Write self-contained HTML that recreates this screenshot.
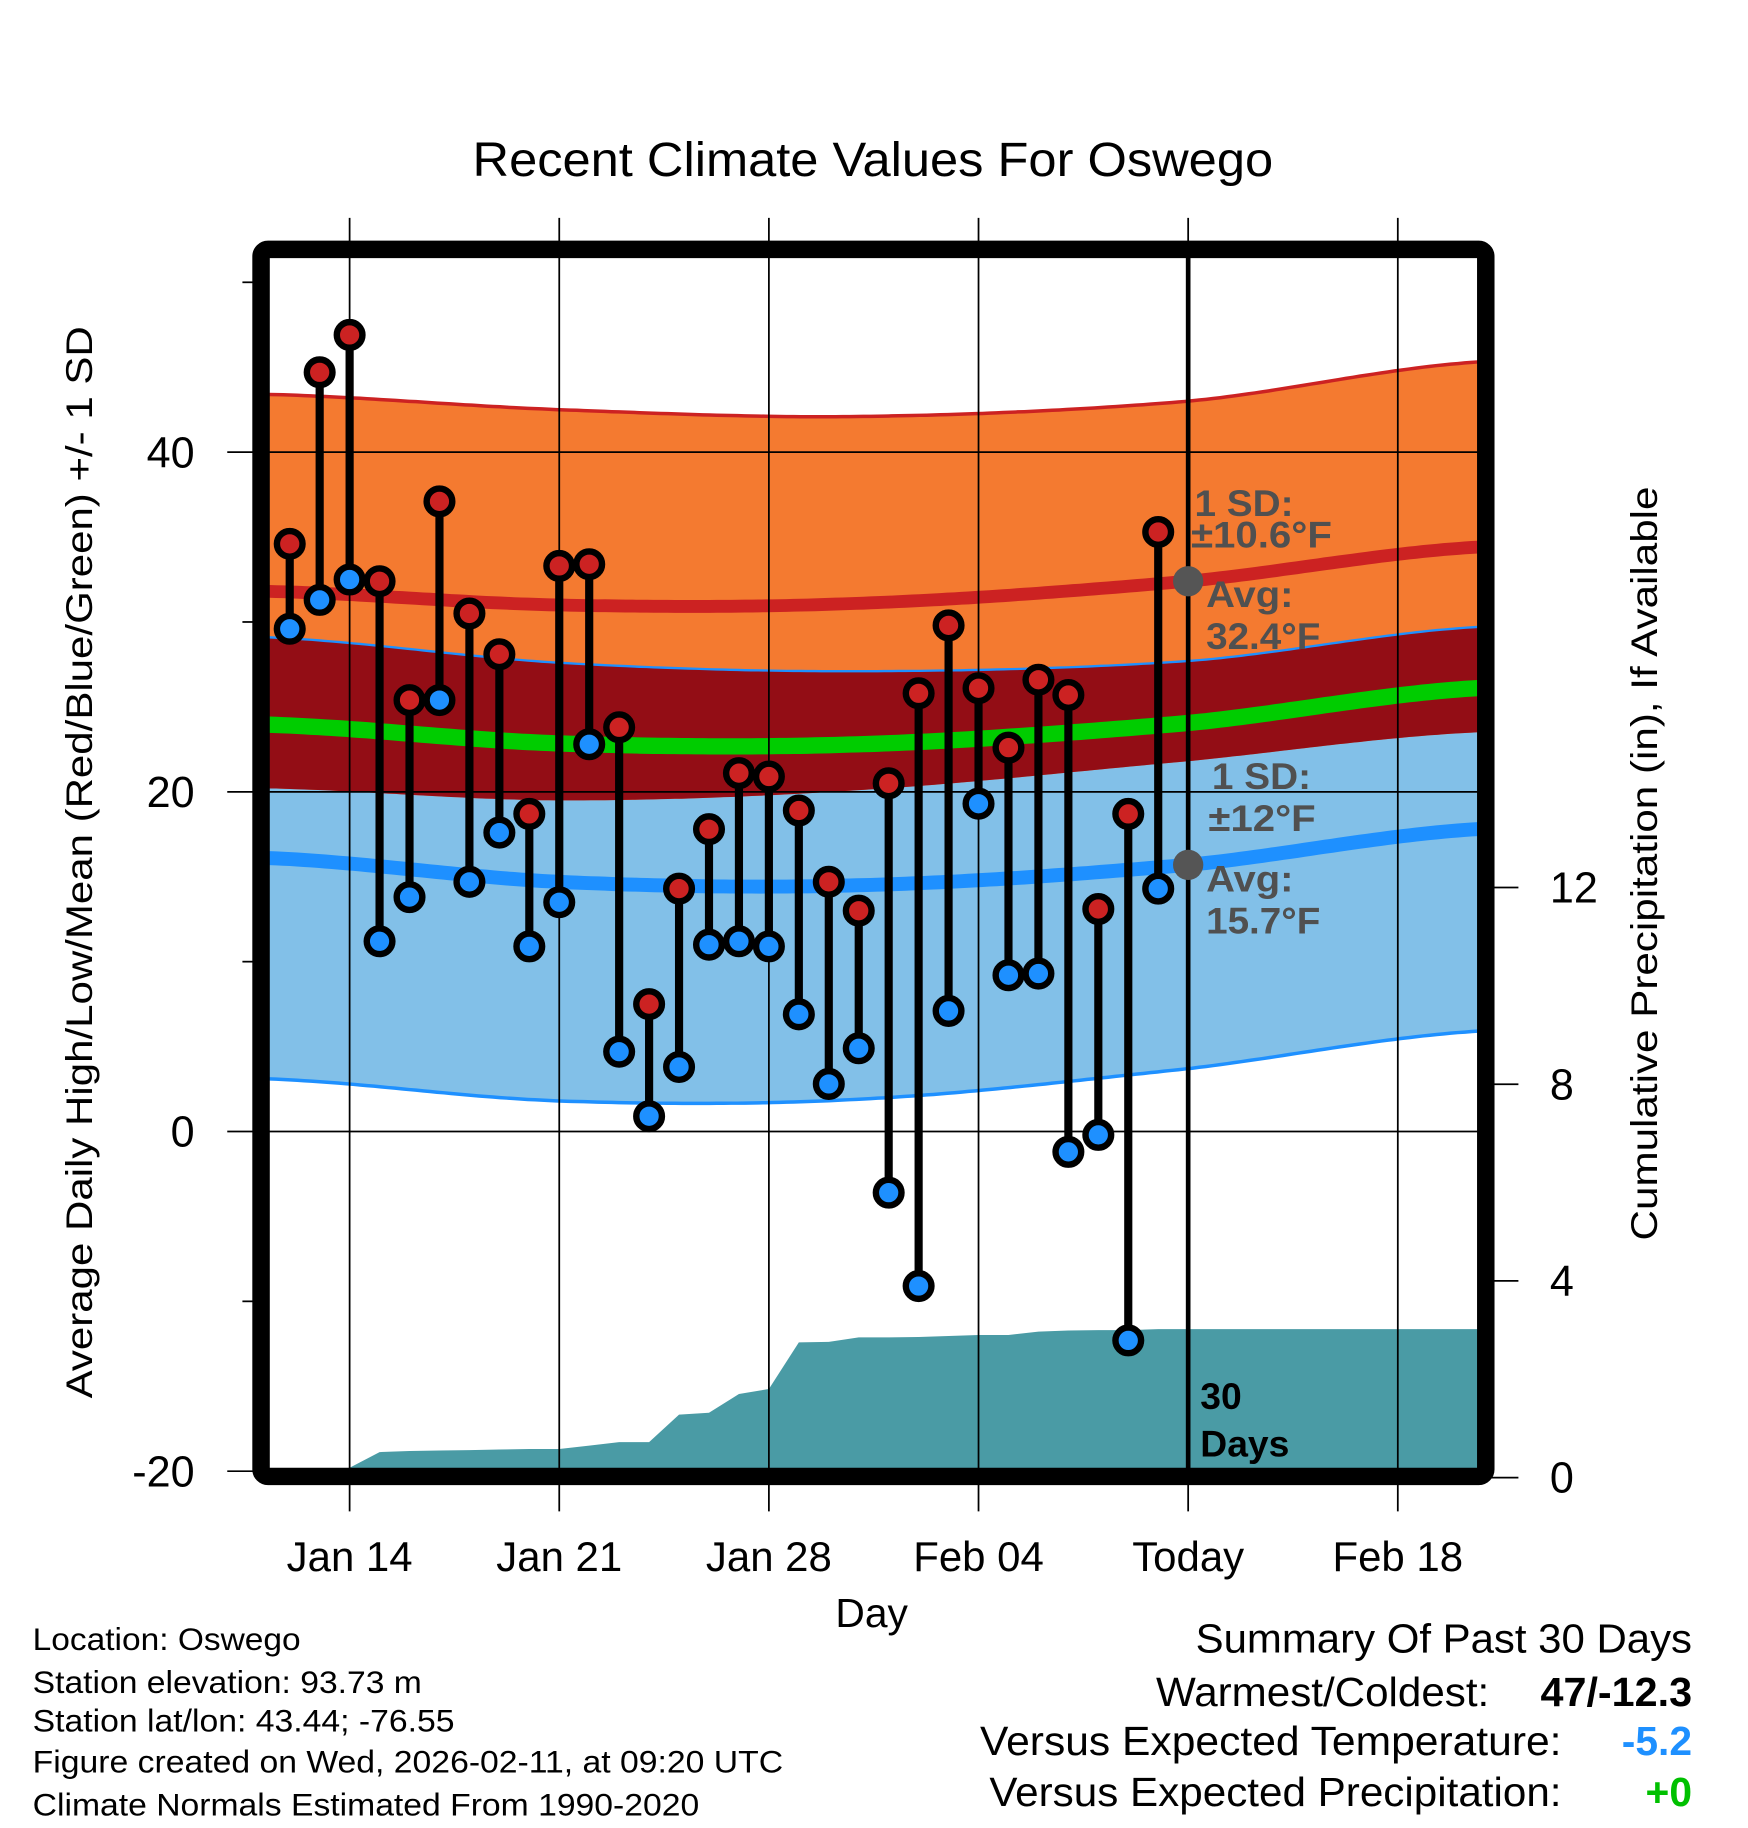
<!DOCTYPE html>
<html><head><meta charset="utf-8"><style>
html,body{margin:0;padding:0;background:#fff;}
svg{display:block;font-family:"Liberation Sans",sans-serif;}
</style></head><body>
<svg id="chart" width="1748" height="1828" viewBox="0 0 1500 1568.7" xmlns="http://www.w3.org/2000/svg">
<g id="plot"></g>
<text x="749" y="151" font-size="41" text-anchor="middle" textLength="687" lengthAdjust="spacingAndGlyphs">Recent Climate Values For Oswego</text>
<text transform="translate(79,740) rotate(-90)" font-size="32" text-anchor="middle" textLength="920" lengthAdjust="spacingAndGlyphs">Average Daily High/Low/Mean (Red/Blue/Green) +/- 1 SD</text>
<text transform="translate(1422,741) rotate(-90)" font-size="32" text-anchor="middle" textLength="647" lengthAdjust="spacingAndGlyphs">Cumulative Precipitation (in), If Available</text>
<text x="748" y="1396" font-size="35" text-anchor="middle">Day</text>
<g font-size="27" lengthAdjust="spacingAndGlyphs">
<text x="28" y="1416" textLength="230" lengthAdjust="spacingAndGlyphs">Location: Oswego</text>
<text x="28" y="1453" textLength="334" lengthAdjust="spacingAndGlyphs">Station elevation: 93.73 m</text>
<text x="28" y="1486" textLength="362" lengthAdjust="spacingAndGlyphs">Station lat/lon: 43.44; -76.55</text>
<text x="28" y="1521" textLength="644" lengthAdjust="spacingAndGlyphs">Figure created on Wed, 2026-02-11, at 09:20 UTC</text>
<text x="28" y="1558" textLength="572" lengthAdjust="spacingAndGlyphs">Climate Normals Estimated From 1990-2020</text>
</g>
<g font-size="35">
<text x="1026" y="1418" textLength="426" lengthAdjust="spacingAndGlyphs">Summary Of Past 30 Days</text>
<text x="992" y="1464" textLength="286" lengthAdjust="spacingAndGlyphs">Warmest/Coldest:</text>
<text x="1322" y="1464" font-weight="bold" textLength="130" lengthAdjust="spacingAndGlyphs">47/-12.3</text>
<text x="841" y="1506" textLength="499" lengthAdjust="spacingAndGlyphs">Versus Expected Temperature:</text>
<text x="1452" y="1506" text-anchor="end" font-weight="bold" fill="#1e90ff">-5.2</text>
<text x="849" y="1550" textLength="491" lengthAdjust="spacingAndGlyphs">Versus Expected Precipitation:</text>
<text x="1452" y="1550" text-anchor="end" font-weight="bold" fill="#00c000">+0</text>
</g>
</svg>
<script>
const highs=[34.6,44.7,46.9,32.4,25.4,37.1,30.5,28.1,18.7,33.3,33.4,23.8,7.5,14.3,17.8,21.1,20.9,18.9,14.7,13.0,20.5,25.8,29.8,26.1,22.6,26.6,25.7,13.1,18.7,35.3];
const lows=[29.6,31.3,32.5,11.2,13.8,25.4,14.7,17.6,10.9,13.5,22.8,4.7,0.9,3.8,11.0,11.2,10.9,6.9,2.8,4.9,-3.6,-9.1,7.1,19.3,9.2,9.3,-1.2,-0.2,-12.3,14.3];
const precip=[0,0,0.2,0.52,0.54,0.55,0.56,0.57,0.58,0.58,0.65,0.72,0.72,1.28,1.32,1.7,1.8,2.75,2.76,2.85,2.85,2.86,2.88,2.9,2.9,2.97,2.99,3.0,3.0,3.02];
const normDays=[-0.7,9,19,30,39.6];
const highAvg=[31.8,31.0,31.1,32.4,34.4];
const highSD=[11.6,11.5,11.0,10.6,10.9];
const lowAvg=[16.1,14.7,14.5,15.7,17.8];
const lowSD=[13.0,12.9,12.6,12.0,11.9];
const xTickDays=[2,9,16,23,30,37];
const xTickLabels=["Jan 14","Jan 21","Jan 28","Feb 04","Today","Feb 18"];
const yTicks=[-20,0,20,40];
const yMinor=[-10,10,30,50];
const pTicks=[0,4,8,12];

const NS="http://www.w3.org/2000/svg";
const X0=231,X1=1268,Y0=221,Y1=1260;
const xs=d=>248.6+d*25.7;
const ys=v=>971-14.575*v;
const yp=p=>1268-42.2*p;
const g=document.getElementById('plot');
function mk(tag,attrs,parent){const e=document.createElementNS(NS,tag);for(const k in attrs)e.setAttribute(k,attrs[k]);(parent||g).appendChild(e);return e;}
function interp(arr,d){for(let i=0;i<normDays.length-1;i++){if(d<=normDays[i+1]||i==normDays.length-2){const t=(d-normDays[i])/(normDays[i+1]-normDays[i]);
const p0=arr[Math.max(i-1,0)],p1=arr[i],p2=arr[i+1],p3=arr[Math.min(i+2,arr.length-1)];
const t2=t*t,t3=t2*t;return 0.5*((2*p1)+(-p0+p2)*t+(2*p0-5*p1+4*p2-p3)*t2+(-p0+3*p1-3*p2+p3)*t3);}}}
const samples=[];for(let x=X0;x<=X1;x+=6)samples.push(x);if(samples[samples.length-1]!==X1)samples.push(X1);
const dOf=x=>(x-248.6)/25.7;
function curve(f){return samples.map(x=>[x,ys(f(dOf(x)))]);}
function ptsStr(a){return a.map(p=>p[0].toFixed(1)+','+p[1].toFixed(1)).join(' ');}
const hTop=curve(d=>interp(highAvg,d)+interp(highSD,d));
const hBot=curve(d=>interp(highAvg,d)-interp(highSD,d));
const lTop=curve(d=>interp(lowAvg,d)+interp(lowSD,d));
const lBot=curve(d=>interp(lowAvg,d)-interp(lowSD,d));
const hMid=curve(d=>interp(highAvg,d));
const lMid=curve(d=>interp(lowAvg,d));
const mMid=curve(d=>(interp(highAvg,d)+interp(lowAvg,d))/2);

let e;
e=mk('polygon',{points:ptsStr(lTop.concat(lBot.slice().reverse())),fill:'#82c0e8'});


e=mk('polygon',{points:ptsStr(hTop.concat(hBot.slice().reverse())),fill:'#f47a30'});


e=mk('polygon',{points:ptsStr(lTop.concat(hBot.slice().reverse())),fill:'#930d15'});


e=mk('polyline',{points:ptsStr(hTop),fill:'none',stroke:'#cc2222','stroke-width':3});


e=mk('polyline',{points:ptsStr(lTop),fill:'none',stroke:'#1e90ff','stroke-width':2});


e=mk('polyline',{points:ptsStr(lBot),fill:'none',stroke:'#1e90ff','stroke-width':3});


e=mk('polyline',{points:ptsStr(hMid),fill:'none',stroke:'#cc2222','stroke-width':11});


e=mk('polyline',{points:ptsStr(lMid),fill:'none',stroke:'#1e90ff','stroke-width':12});


e=mk('polyline',{points:ptsStr(mMid),fill:'none',stroke:'#00cc00','stroke-width':14});



const pp=[[X0,yp(0)]];
precip.forEach((p,i)=>{pp.push([xs(i),yp(p)]);});
pp.push([X1,yp(precip[precip.length-1])]);pp.push([X1,yp(0)]);
const cp=mk('clipPath',{id:'clip'});mk('rect',{x:X0,y:Y0,width:X1-X0,height:Y1-Y0},cp);
e=mk('polygon',{points:ptsStr(pp),fill:'#4a9ba5','clip-path':'url(#clip)'});



yTicks.forEach(v=>{e=mk('line',{x1:195,x2:X1,y1:ys(v),y2:ys(v),stroke:'#000','stroke-width':1.5});


const t=mk('text',{x:167,y:ys(v)+13,'font-size':37,'text-anchor':'end'});t.textContent=v;

});
yMinor.forEach(v=>{e=mk('line',{x1:208,x2:220,y1:ys(v),y2:ys(v),stroke:'#000','stroke-width':1.5});

});
xTickDays.forEach((d,i)=>{e=mk('line',{x1:xs(d),x2:xs(d),y1:187,y2:1297,stroke:'#000','stroke-width':1.5});


const t=mk('text',{x:xs(d),y:1348,'font-size':36,'text-anchor':'middle'});t.textContent=xTickLabels[i];

});
pTicks.forEach(p=>{e=mk('line',{x1:1280,x2:1303,y1:yp(p),y2:yp(p),stroke:'#000','stroke-width':1.5});


const t=mk('text',{x:1330,y:yp(p)+13,'font-size':37});t.textContent=p;

});

e=mk('line',{x1:xs(30),x2:xs(30),y1:Y0,y2:Y1,stroke:'#000','stroke-width':4});



highs.forEach((h,i)=>{e=mk('line',{x1:xs(i),x2:xs(i),y1:ys(h),y2:ys(lows[i]),stroke:'#000','stroke-width':7});

});
highs.forEach((h,i)=>{
e=mk('circle',{cx:xs(i),cy:ys(h),r:11,fill:'#cc2222',stroke:'#000','stroke-width':5.5});


e=mk('circle',{cx:xs(i),cy:ys(lows[i]),r:11,fill:'#1e90ff',stroke:'#000','stroke-width':5.5});

});

e=mk('circle',{cx:xs(30),cy:ys(32.4),r:13,fill:'#555'});


e=mk('circle',{cx:xs(30),cy:ys(15.7),r:13,fill:'#555'});


const ann=[["1 SD:",1025,443,85],["±10.6°F",1022,470,121],["Avg:",1035,521,75],["32.4°F",1035,557,98],["1 SD:",1040,677,85],["±12°F",1037,713,92],["Avg:",1035,765,75],["15.7°F",1035,801,98]];
ann.forEach(a=>{const t=mk('text',{x:a[1],y:a[2],'font-size':32,'font-weight':'bold',fill:'#505050',textLength:a[3],lengthAdjust:'spacingAndGlyphs'});t.textContent=a[0];

});
[["30",1030,1209],["Days",1030,1250]].forEach(a=>{const t=mk('text',{x:a[1],y:a[2],'font-size':32,'font-weight':'bold'});t.textContent=a[0];

});

e=mk('rect',{x:224,y:214,width:1051,height:1053,rx:6,fill:'none',stroke:'#000','stroke-width':15});


</script>
</body></html>
